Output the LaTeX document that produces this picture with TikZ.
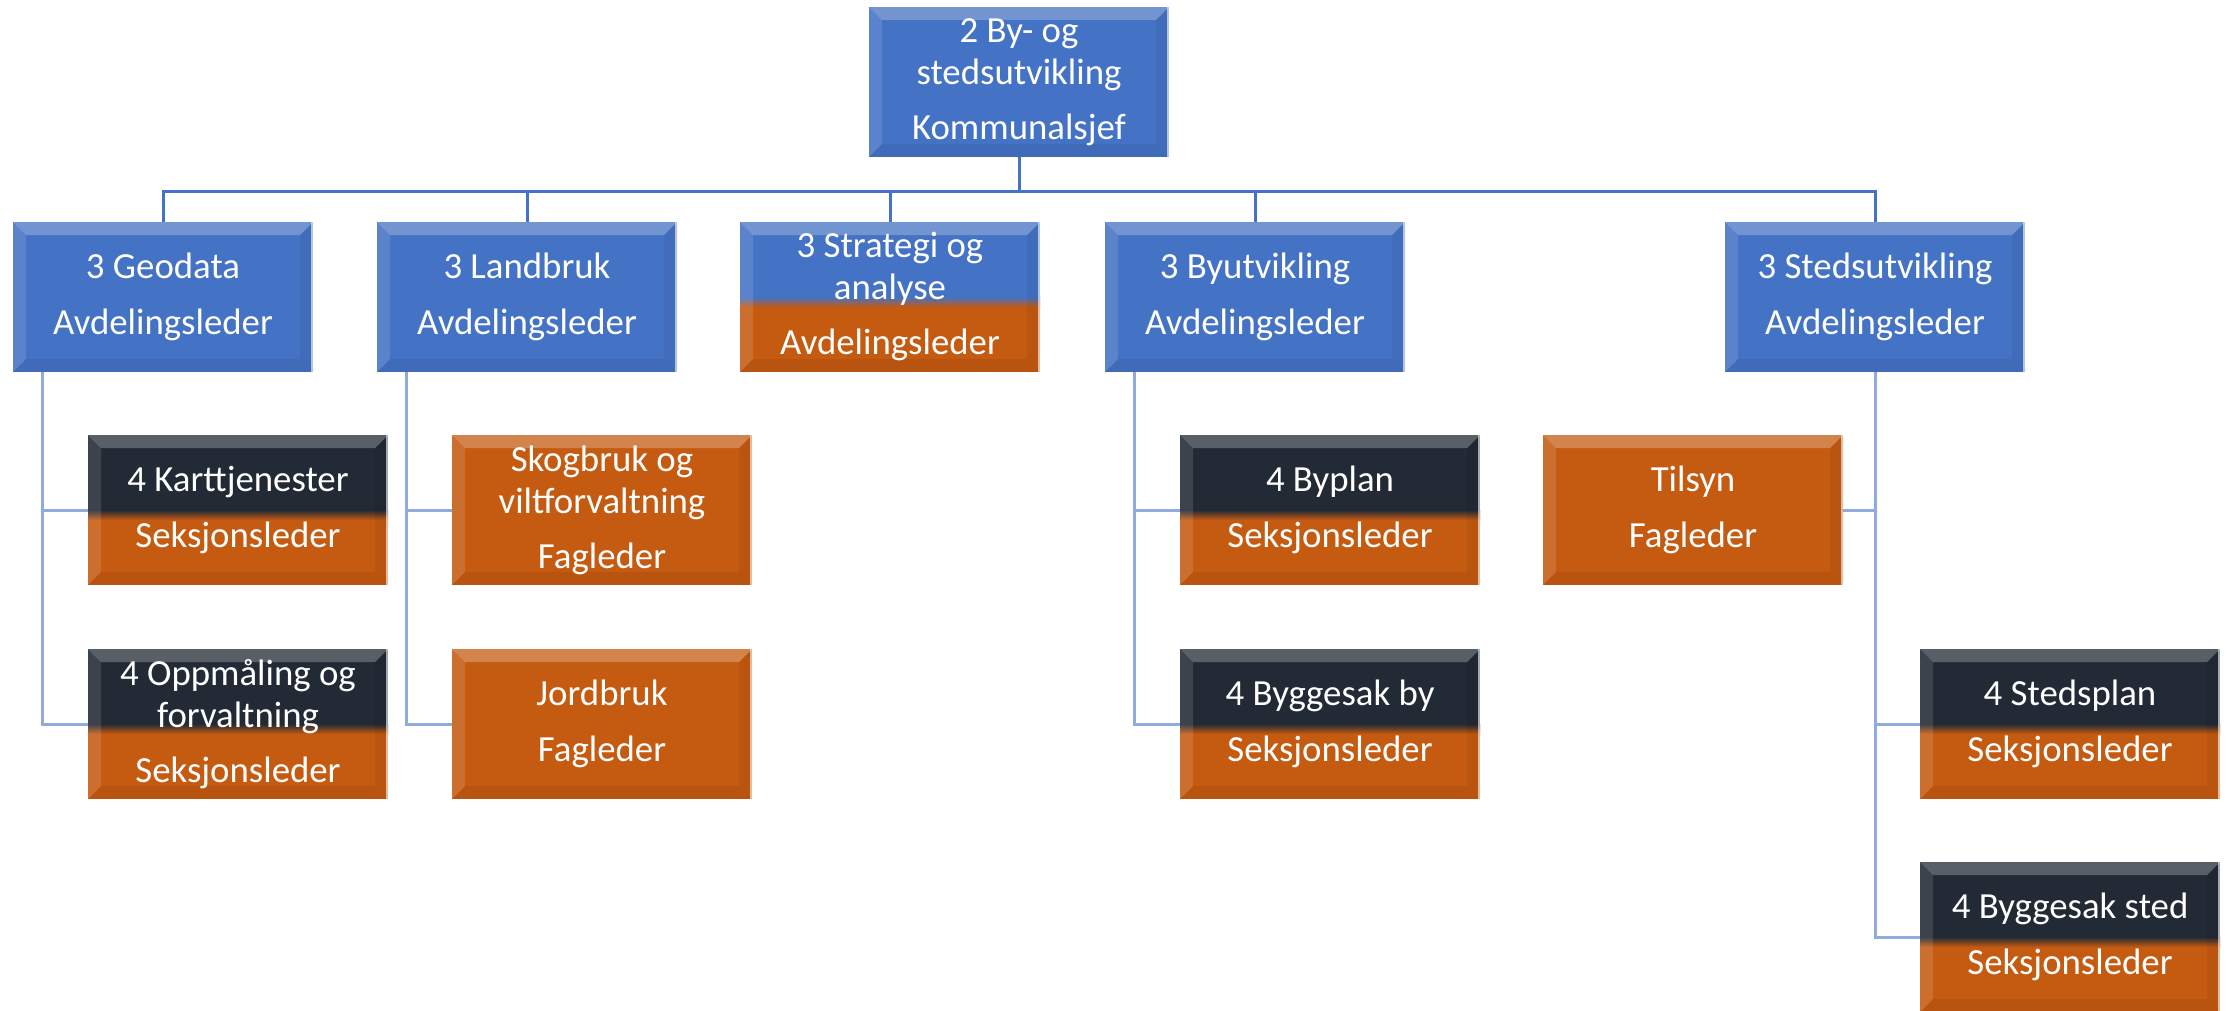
\documentclass[tikz,border=0pt]{standalone}
\usepackage{fontspec}
\setmainfont{Carlito}
\usetikzlibrary{calc,backgrounds}
\definecolor{cblue}{HTML}{4472C4}
\definecolor{cnavy}{HTML}{222A35}
\definecolor{corange}{HTML}{C55A11}
\definecolor{clight}{HTML}{8FAADC}
\newcommand\bevelfx{%
 \fill[white,opacity=.25] (path picture bounding box.north west) -- (path picture bounding box.north east) -- ([shift={(-6.5pt,-6.5pt)}]path picture bounding box.north east) -- ([shift={(6.5pt,-6.5pt)}]path picture bounding box.north west) -- cycle;
 \fill[white,opacity=.12] (path picture bounding box.north west) -- ([shift={(6.5pt,-6.5pt)}]path picture bounding box.north west) -- ([shift={(6.5pt,6.5pt)}]path picture bounding box.south west) -- (path picture bounding box.south west) -- cycle;
 \fill[black,opacity=.06] (path picture bounding box.south west) -- ([shift={(6.5pt,6.5pt)}]path picture bounding box.south west) -- ([shift={(-6.5pt,6.5pt)}]path picture bounding box.south east) -- (path picture bounding box.south east) -- cycle;
 \fill[black,opacity=.05] (path picture bounding box.north east) -- ([shift={(-6.5pt,-6.5pt)}]path picture bounding box.north east) -- ([shift={(-6.5pt,6.5pt)}]path picture bounding box.south east) -- (path picture bounding box.south east) -- cycle;
 \fill[white,opacity=.6] ([xshift=-1.2pt]path picture bounding box.north east) rectangle (path picture bounding box.south east);
}
\newcommand\twotonefx[1]{%
 \fill[#1] (path picture bounding box.north west) rectangle ([yshift=-37.5pt]path picture bounding box.north east);
 \shade[top color=#1,bottom color=corange] ([yshift=-37.5pt]path picture bounding box.north west) rectangle ([yshift=-42.5pt]path picture bounding box.north east);
 \fill[corange] ([yshift=-42.5pt]path picture bounding box.north west) rectangle (path picture bounding box.south east);
}
\tikzset{
 orgbox/.style={rectangle, minimum width=150pt, minimum height=75pt, inner sep=0pt, text=white, align=center, font=\fontsize{18.4}{21}\selectfont},
 bluebox/.style={orgbox, fill=cblue, path picture={\bevelfx}},
 orangebox/.style={orgbox, fill=corange, path picture={\bevelfx}},
 splitbox/.style={orgbox, fill=corange, path picture={\twotonefx{#1}\bevelfx}},
 splitbox/.default=cnavy,
 mainline/.style={draw=cblue, line width=1.5pt},
 subline/.style={draw=clight, line width=1.5pt},
}
\begin{document}
\begin{tikzpicture}[x=0.5pt,y=-0.5pt]
\useasboundingbox (0,0) rectangle (2236,1011);
\node[bluebox] (top) at (1019,82) {2 By- og\\stedsutvikling\\[6.5pt]Kommunalsjef};
\node[bluebox] (geo) at (163,297) {3 Geodata\\[7pt]Avdelingsleder};
\node[bluebox] (land) at (527,297) {3 Landbruk\\[7pt]Avdelingsleder};
\node[splitbox=cblue] (strat) at (890,297) {3 Strategi og\\analyse\\[6.5pt]Avdelingsleder};
\node[bluebox] (byutv) at (1255,297) {3 Byutvikling\\[7pt]Avdelingsleder};
\node[bluebox] (stedutv) at (1875,297) {3 Stedsutvikling\\[7pt]Avdelingsleder};
\node[splitbox] (kart) at (238,510) {4 Karttjenester\\[7pt]Seksjonsleder};
\node[splitbox] (oppm) at (238,724) {4 Oppmåling og\\forvaltning\\[6.5pt]Seksjonsleder};
\node[orangebox] (skog) at (602,510) {Skogbruk og\\viltforvaltning\\[6.5pt]Fagleder};
\node[orangebox] (jord) at (602,724) {Jordbruk\\[7pt]Fagleder};
\node[splitbox] (byplan) at (1330,510) {4 Byplan\\[7pt]Seksjonsleder};
\node[splitbox] (byggby) at (1330,724) {4 Byggesak by\\[7pt]Seksjonsleder};
\node[orangebox] (tilsyn) at (1693,510) {Tilsyn\\[7pt]Fagleder};
\node[splitbox] (stedplan) at (2070,724) {4 Stedsplan\\[7pt]Seksjonsleder};
\node[splitbox] (byggsted) at (2070,937) {4 Byggesak sted\\[7pt]Seksjonsleder};
\coordinate (bar) at (1019,191);
\begin{pgfonlayer}{background}
\foreach \c in {geo,land,strat,byutv,stedutv}
  \draw[mainline] (top.south) -- (top.south |- bar) -| (\c.north);
\draw[subline] ([xshift=15pt]geo.south west) |- (kart.west);
\draw[subline] ([xshift=15pt]geo.south west) |- (oppm.west);
\draw[subline] ([xshift=15pt]land.south west) |- (skog.west);
\draw[subline] ([xshift=15pt]land.south west) |- (jord.west);
\draw[subline] ([xshift=15pt]byutv.south west) |- (byplan.west);
\draw[subline] ([xshift=15pt]byutv.south west) |- (byggby.west);
\draw[subline] (stedutv.south) |- (tilsyn.east);
\draw[subline] (stedutv.south) |- (stedplan.west);
\draw[subline] (stedutv.south) |- (byggsted.west);
\end{pgfonlayer}
\end{tikzpicture}
\end{document}
